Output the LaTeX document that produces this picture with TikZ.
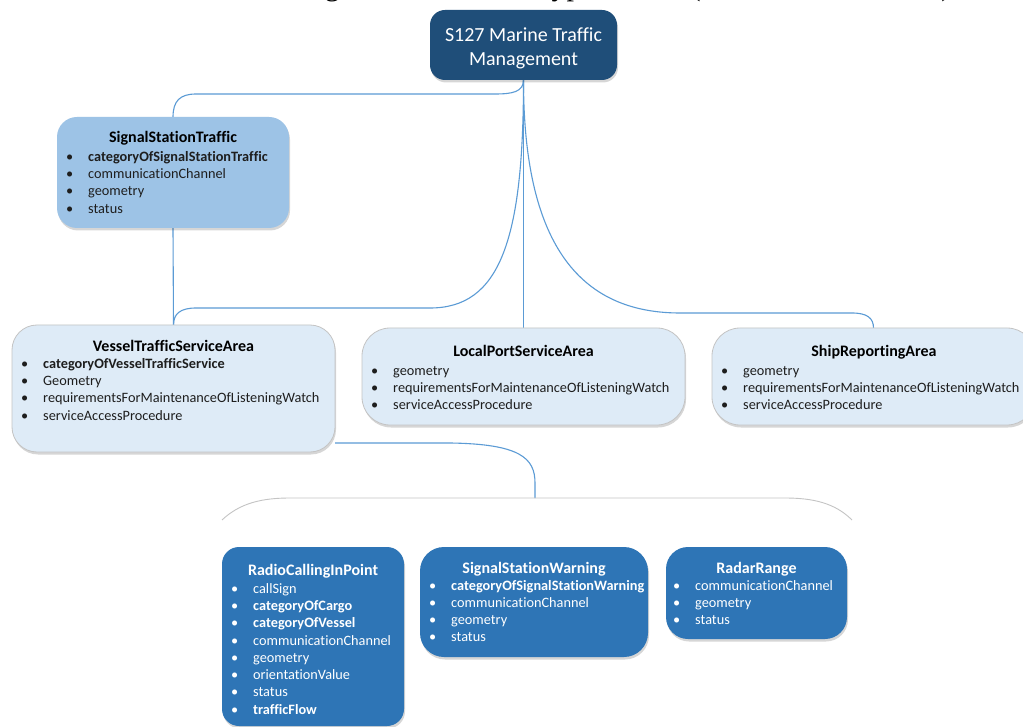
\documentclass[tikz,border=0pt]{standalone}
\usepackage{fontspec}
\setmainfont{Carlito}[Ligatures=NoCommon]
\newfontfamily\bodyserif{Liberation Serif}
\usetikzlibrary{shadows}

\definecolor{rootblue}{HTML}{1F4E79}
\definecolor{midblue}{HTML}{9DC3E6}
\definecolor{paleblue}{HTML}{DEEBF7}
\definecolor{groupblue}{HTML}{2E75B6}
\definecolor{linkblue}{HTML}{5B9BD5}
\definecolor{edgegray}{HTML}{C4C4C4}
\definecolor{inkgray}{HTML}{1E1E1E}

\pgfdeclarelayer{bg}
\pgfsetlayers{bg,main}

\tikzset{
  box/.style={anchor=north west, inner sep=0pt, outer sep=0pt,
    drop shadow={shadow xshift=1pt, shadow yshift=-2.5pt, opacity=0.16, fill=black}},
  palebox/.style={box, fill=paleblue, draw=edgegray, line width=0.8pt},
  bluebox/.style={box, fill=groupblue},
  ttl/.style={anchor=base, inner sep=0pt, font=\fontsize{16}{20}\selectfont\bfseries},
  darkattr/.style={inner sep=0pt, text=inkgray, font=\fontsize{14.3}{17}\selectfont},
  lightattr/.style={inner sep=0pt, text=white, font=\fontsize{14.3}{17}\selectfont},
  link/.style={draw=linkblue, line width=1.1pt},
}

% one bulleted attribute per line, baselines 17.25pt apart
\newcommand\attrlist[5]{%
  \foreach \t [count=\i from 0] in {#5}{
    \node[#1, anchor=base west] (#2-\i) at (#3, {#4+\i*17.25})
      {\makebox[22pt][l]{\textbullet}\t};
  }}

\begin{document}
\begin{tikzpicture}[x=1pt, y=-1pt]
\begin{pgfonlayer}{bg}
\fill[white] (0,0) rectangle (1023,727);
\end{pgfonlayer}
\useasboundingbox (0,0) rectangle (1023,727);

% running text of the page above the figure
\node[anchor=base east, inner sep=0pt, font=\bodyserif\fontsize{30}{36}\selectfont] (caption)
  at (959,-4) {attributes and metadata related to geometric feature types of the (Information Service).};

% root
\node[box, fill=rootblue, rounded corners=15pt, minimum width=187pt, minimum height=70pt] (root) at (430,10) {};
\node[text=white, align=center, inner sep=0pt, font=\fontsize{20}{23.5}\selectfont] (root-t)
  at (523.5,48.5) {S127 Marine Traffic\\Management};

% SignalStationTraffic
\node[box, fill=midblue, rounded corners=20pt, minimum width=232pt, minimum height=111pt] (sst) at (57,117) {};
\node[ttl] (sst-t) at (173,143) {SignalStationTraffic};
\attrlist{darkattr}{sst}{66}{161.5}{\textbf{categoryOfSignalStationTraffic},communicationChannel,geometry,status}

% VesselTrafficServiceArea
\node[palebox, rounded corners=25pt, minimum width=323pt, minimum height=127pt] (vtsa) at (12,325) {};
\node[ttl] (vtsa-t) at (173.5,351.7) {VesselTrafficServiceArea};
\attrlist{darkattr}{vtsa}{21}{368.3}{\textbf{categoryOfVesselTrafficService},Geometry,requirementsForMaintenanceOfListeningWatch,serviceAccessProcedure}

% LocalPortServiceArea
\node[palebox, rounded corners=28pt, minimum width=323pt, minimum height=97pt] (lpsa) at (362,328) {};
\node[ttl] (lpsa-t) at (523.5,356.7) {LocalPortServiceArea};
\attrlist{darkattr}{lpsa}{371}{375.3}{geometry,requirementsForMaintenanceOfListeningWatch,serviceAccessProcedure}

% ShipReportingArea
\node[palebox, rounded corners=28pt, minimum width=323pt, minimum height=97pt] (sra) at (712,328) {};
\node[ttl] (sra-t) at (874,356.7) {ShipReportingArea};
\attrlist{darkattr}{sra}{721}{375.3}{geometry,requirementsForMaintenanceOfListeningWatch,serviceAccessProcedure}

% group outline
\draw[edgegray, line width=0.9pt] (222,520) .. controls (240,503) and (262,498) .. (290,498)
  -- (785,498) .. controls (813,498) and (835,503) .. (852,520);
\coordinate (grp) at (535,498);

% RadioCallingInPoint
\node[bluebox, rounded corners=17pt, minimum width=182pt, minimum height=179pt] (rcip) at (222,547) {};
\node[ttl, text=white] (rcip-t) at (313,575.7) {RadioCallingInPoint};
\attrlist{lightattr}{rcip}{231}{593.3}{callSign,\textbf{categoryOfCargo},\textbf{categoryOfVessel},communicationChannel,geometry,orientationValue,status,\textbf{trafficFlow}}

% SignalStationWarning
\node[bluebox, rounded corners=24pt, minimum width=228pt, minimum height=110pt] (ssw) at (420,547) {};
\node[ttl, text=white] (ssw-t) at (534,573.3) {SignalStationWarning};
\attrlist{lightattr}{ssw}{429}{590}{\textbf{categoryOfSignalStationWarning},communicationChannel,geometry,status}

% RadarRange
\node[bluebox, rounded corners=22pt, minimum width=181pt, minimum height=92pt] (rr) at (666,547) {};
\node[ttl, text=white] (rr-t) at (756.5,573.3) {RadarRange};
\attrlist{lightattr}{rr}{673}{590}{communicationChannel,geometry,status}

% connectors
\begin{pgfonlayer}{bg}
\draw[link] (root.south) .. controls (523.5,92) and (512,94) .. (495,94)
  -- (196,94) .. controls (180,94) and (173,101) .. (sst.north);
\draw[link] (sst.south) -- (vtsa.north);
\draw[link] (root.south) .. controls (523.5,240) and (500,308) .. (430,308)
  -- (196,308) .. controls (180,308) and (173.5,314) .. (vtsa.north);
\draw[link] (root.south) -- (lpsa.north);
\draw[link] (root.south) .. controls (523.5,230) and (570,313) .. (680,313)
  -- (852,313) .. controls (867,313) and (873.5,318) .. (sra.north);
\draw[link] (vtsa.east |- 0,443) -- (450,443) .. controls (520,444) and (535,458) .. (535,483) -- (grp);
\end{pgfonlayer}
\end{tikzpicture}
\end{document}
